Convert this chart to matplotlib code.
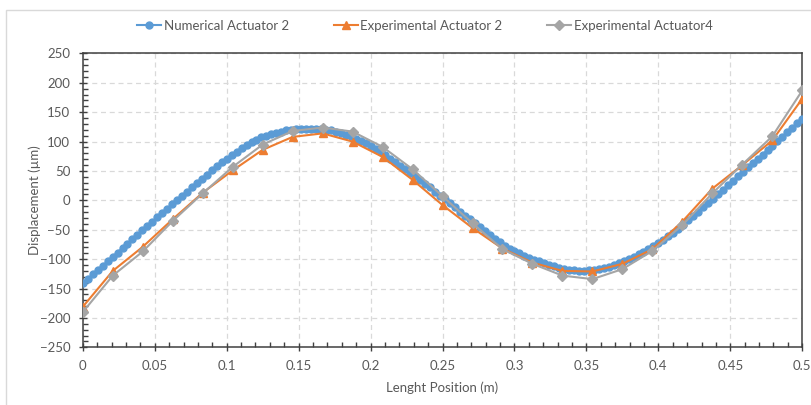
import numpy as np
import matplotlib.pyplot as plt
from matplotlib.patches import Rectangle
from matplotlib.ticker import MultipleLocator

# numerical model, 146 nodes along the beam
x_num = np.linspace(0, 0.5, 146)
disp_num = [
    -141, -134, -126, -119, -111, -104, -96, -89, -81, -74,
    -66, -59, -51, -44, -37, -29, -22, -14, -7, 1,
    8, 15, 22, 30, 37, 44, 51, 58, 65, 71,
    77, 83, 89, 94, 99, 103, 107, 110, 113, 115,
    117, 119, 120, 121, 122, 122, 122, 122, 121, 120,
    119, 117, 115, 112, 109, 105, 101, 97, 92, 87,
    82, 77, 71, 65, 59, 53, 47, 41, 35, 28,
    22, 15, 8, 2, -5, -12, -19, -26, -32, -39,
    -46, -52, -59, -65, -71, -77, -82, -86, -90, -94,
    -98, -101, -104, -107, -110, -112, -115, -117, -118, -119,
    -120, -120, -119, -118, -117, -115, -113, -110, -107, -104,
    -100, -96, -92, -88, -83, -78, -73, -67, -61, -55,
    -49, -42, -34, -27, -19, -12, -4, 3, 11, 18,
    26, 33, 41, 48, 56, 63, 71, 78, 86, 93,
    101, 108, 116, 123, 131, 138,
]

# measured points, every 1/48 m
x_exp = np.arange(25) / 48
disp_act2 = [
    -181, -120, -79, -32, 13, 51, 86, 108, 114, 100,
    74, 35, -8, -47, -82, -106, -120, -121, -108, -83,
    -36, 20, 60, 102, 173,
]
disp_act4 = [
    -190, -128, -87, -35, 12, 57, 95, 118, 124, 117,
    91, 53, 7, -39, -83, -108, -128, -134, -117, -86,
    -42, 12, 61, 109, 187,
]

BLUE = '#5B9BD5'
ORANGE = '#ED7D31'
GRAY = '#A5A5A5'
TXT = '#595959'

plt.rcParams['font.family'] = ['Lato', 'DejaVu Sans']

fig = plt.figure(figsize=(8.12, 4.05), dpi=100)
ax = fig.add_axes([0.102, 0.1425, 0.886, 0.7255])

ax.plot(x_num, disp_num, color=BLUE, lw=1.5, marker='o', ms=5,
        label='Numerical Actuator 2', zorder=3)
ax.plot(x_exp, disp_act2, color=ORANGE, lw=1.5, marker='^', ms=5.5,
        label='Experimental Actuator 2', zorder=4)
ax.plot(x_exp, disp_act4, color=GRAY, lw=1.5, marker='D', ms=5,
        label='Experimental Actuator4', zorder=5)

ax.set_xlim(0, 0.5)
ax.set_ylim(-250, 250)
ax.xaxis.set_major_locator(MultipleLocator(0.05))
ax.xaxis.set_minor_locator(MultipleLocator(0.01))
ax.yaxis.set_major_locator(MultipleLocator(50))
ax.yaxis.set_minor_locator(MultipleLocator(10))
ax.set_xticks(np.arange(11) * 0.05)
ax.set_xticklabels(['0', '0.05', '0.1', '0.15', '0.2', '0.25', '0.3',
                    '0.35', '0.4', '0.45', '0.5'])

ax.grid(True, which='major', color='#D9D9D9', ls=(0, (4, 3)), lw=0.9)
ax.set_axisbelow(True)
ax.tick_params(which='major', direction='inout', length=6, width=1,
               color='#404040', labelcolor=TXT, labelsize=9.5, pad=6)
ax.tick_params(which='minor', direction='in', length=3.5, width=1,
               color='#404040')
for side in ax.spines.values():
    side.set_color('#404040')
    side.set_linewidth(1.1)

ax.set_xlabel('Lenght Position (m)', color=TXT, fontsize=9.5, labelpad=7)
ax.set_ylabel('Displacement (\u00b5m)', color=TXT, fontsize=9.5, labelpad=-1)

fig.legend(loc='center', bbox_to_anchor=(425 / 812, 1 - 26 / 405), ncol=3,
           frameon=False, fontsize=9.5, labelcolor=TXT, handlelength=1.8,
           handletextpad=0.2, columnspacing=3.4)

# chart area outline
fig.add_artist(Rectangle((6 / 812, -0.02), 1.0, 1 - 10 / 405 + 0.02,
                         transform=fig.transFigure, fill=False,
                         edgecolor='#D9D9D9', lw=1))

fig.savefig('out.png', dpi=100)
